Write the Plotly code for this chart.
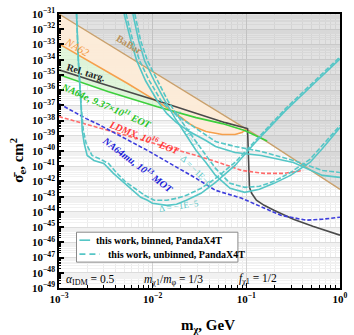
import plotly.graph_objects as go

# ---------------- data ----------------
X_RANGE = (1e-3, 1.0)
Y_RANGE = (1e-49, 1e-31)

babar_m = [1.0e-3, 1.01e-1, 1.67e-1, 1.0]
babar_sig = [1.0e-31, 2.75e-39, 4.0e-40, 3.0e-43]

na62_m = [1.0e-3, 2.67e-3, 5.46e-3, 8.81e-3, 1.42e-2, 2.03e-2, 2.46e-2, 2.91e-2, 3.70e-2, 5.54e-2, 7.57e-2, 8.95e-2, 1.01e-1]
na62_sig = [1.09e-33, 3.4e-35, 2.62e-36, 4.3e-37, 7.05e-38, 1.56e-38, 6.3e-39, 3.46e-39, 1.89e-39, 1.21e-39, 1.21e-39, 1.63e-39, 2.75e-39]

reltarg_m = [1.0e-3, 2.67e-3, 1.12e-2, 2.91e-2, 5.96e-2, 1.03e-1, 1.045e-1, 1.06e-1, 1.08e-1, 1.14e-1, 1.28e-1, 1.55e-1, 1.97e-1, 3.18e-1, 5.12e-1, 1.0]
reltarg_sig = [2.16e-35, 3.05e-36, 2.02e-37, 2.85e-38, 7.3e-39, 2.98e-39, 1.08e-40, 2.5e-42, 4.1e-43, 1.66e-43, 5.8e-44, 2.7e-44, 1.28e-44, 3.3e-45, 1.15e-45, 2.96e-46]

na64e_m = [1.0e-3, 3.38e-3, 1.12e-2, 2.91e-2, 5.54e-2, 9.61e-2, 1.67e-1]
na64e_sig = [1.02e-35, 7.9e-37, 8.2e-38, 1.56e-38, 6.3e-39, 2.2e-39, 4.5e-40]

ldmx_m = [1.0e-3, 2.67e-3, 8.81e-3, 2.91e-2, 4.69e-2, 8.95e-2, 1.55e-1, 2.50e-1, 4.04e-1]
ldmx_sig = [1.82e-38, 3.46e-39, 4.2e-40, 5.1e-41, 2.06e-41, 5.3e-42, 3.38e-42, 3.38e-42, 5.3e-42]

na64mu_m = [1.0e-3, 1.95e-3, 2.67e-3, 8.81e-3, 2.91e-2, 4.69e-2, 8.95e-2, 1.55e-1, 2.33e-1, 4.34e-1, 6.50e-1, 1.0]
na64mu_sig = [1.29e-37, 1.34e-38, 5.4e-39, 1.08e-40, 1.59e-42, 2.6e-43, 7.8e-44, 1.73e-44, 6.0e-45, 2.84e-45, 3.3e-45, 4.5e-45]

# this work, Delta = -1E-5
d5_bin_m = [1.54e-3, 1.61e-3, 1.73e-3, 1.77e-3, 1.86e-3, 2.00e-3, 2.36e-3, 3.01e-3, 3.81e-3, 5.08e-3, 6.45e-3, 7.45e-3, 8.81e-3, 9.93e-3, 1.42e-2, 1.80e-2, 2.29e-2, 3.28e-2, 4.69e-2, 7.57e-2, 1.22e-1, 1.97e-1, 2.62e-1, 5.12e-1, 1.0]
d5_bin_sig = [1e-31, 8.4e-35, 4.5e-38, 2.2e-39, 3.1e-40, 5.1e-41, 2.4e-41, 1.52e-41, 3.38e-42, 7.5e-43, 1.93e-43, 9.1e-44, 5.8e-44, 3.7e-44, 2.7e-44, 3.16e-44, 5.8e-44, 1.66e-43, 8.7e-43, 1.13e-41, 3.1e-40, 7.3e-39, 4.5e-38, 2.25e-36, 1.13e-34]
d5_unb_m = [1.54e-3, 1.61e-3, 1.74e-3, 1.82e-3, 1.95e-3, 2.25e-3, 2.67e-3, 3.38e-3, 4.09e-3, 5.20e-3, 6.93e-3, 8.20e-3, 1.04e-2, 1.42e-2, 1.80e-2, 2.29e-2, 3.28e-2, 4.69e-2, 7.57e-2, 1.22e-1, 1.97e-1, 2.62e-1, 5.12e-1, 1.0]
d5_unb_sig = [1e-31, 8.4e-35, 4.5e-38, 2.2e-39, 3.1e-40, 5.1e-41, 3.24e-41, 1.52e-41, 3.9e-42, 8.7e-43, 2.6e-43, 1.23e-43, 5.8e-44, 5.8e-44, 7.8e-44, 1.23e-43, 3.5e-43, 1.59e-42, 1.77e-41, 4.2e-40, 9.9e-39, 6.1e-38, 3.05e-36, 1.53e-34]

# this work, Delta = -1E-7
d7_bin_m = [4.96e-3, 5.86e-3, 6.76e-3, 8.40e-3, 1.12e-2, 1.42e-2, 1.80e-2, 2.46e-2, 3.70e-2, 4.69e-2, 7.57e-2, 1.44e-1, 3.18e-1, 6.50e-1, 1.0]
d7_bin_sig = [1e-31, 1.71e-33, 8.4e-35, 4.1e-36, 2.02e-37, 2.85e-38, 7.3e-39, 1.89e-39, 4.9e-40, 1.98e-40, 8.0e-41, 5.1e-41, 1.77e-41, 2.5e-42, 1.85e-42]
d7_unb_m = [5.20e-3, 6.15e-3, 7.27e-3, 9.23e-3, 1.23e-2, 1.56e-2, 2.03e-2, 2.91e-2, 4.69e-2, 7.57e-2, 1.44e-1, 3.18e-1, 6.50e-1, 1.0]
d7_unb_sig = [1e-31, 1.71e-33, 8.4e-35, 4.1e-36, 2.02e-37, 4.5e-38, 1.34e-38, 2.98e-39, 4.2e-40, 1.98e-40, 9.3e-41, 2.4e-41, 5.3e-42, 3.9e-42]

# this work, Delta = -1E-6
d6_bin_m = [6.15e-3, 7.10e-3, 8.20e-3, 1.04e-2, 1.35e-2, 1.72e-2, 2.29e-2, 2.91e-2, 3.70e-2, 4.69e-2, 6.71e-2, 9.61e-2, 1.38e-1, 1.97e-1, 2.96e-1, 4.77e-1, 6.50e-1, 1.0]
d6_bin_sig = [1e-31, 1.71e-33, 8.4e-35, 4.1e-36, 2.02e-37, 1.56e-38, 1.04e-39, 1.08e-40, 1.77e-41, 2.5e-42, 3.5e-43, 1.93e-43, 3.03e-43, 7.5e-43, 2.5e-42, 1.77e-41, 1.46e-40, 3.46e-39]
d6_unb_m = [6.45e-3, 7.45e-3, 8.81e-3, 1.12e-2, 1.45e-2, 1.84e-2, 2.46e-2, 3.28e-2, 4.69e-2, 6.71e-2, 9.61e-2, 1.38e-1, 1.97e-1, 2.96e-1, 4.77e-1, 6.50e-1, 1.0]
d6_unb_sig = [1e-31, 1.71e-33, 8.4e-35, 4.1e-36, 2.02e-37, 2.11e-38, 1.63e-39, 1.46e-40, 7.2e-42, 7.5e-43, 4.1e-43, 4.8e-43, 1.01e-42, 3.9e-42, 2.79e-41, 2.3e-40, 4.7e-39]

y_exps = list(range(-49, -30))
x_exps = [-3, -2, -1, 0]

# ---------------- styling ----------------
SERIF = "Liberation Serif, Times New Roman, serif"
CYAN = "#55c6c6"

# plot area in pixels (for placing text / legend)
L, R, T, B = 59, 348, 13, 288


def pxx(x):
    return (x - L) / (R - L)


def pxy(y):
    return (B - y) / (B - T)


fig = go.Figure()


def poly_under(m, s, upper_m, upper_s):
    """closed polygon between a curve and the BaBar curve above it"""
    last = m[-1]
    up = [(a, b) for a, b in zip(upper_m, upper_s) if a <= last * 1.0001]
    up = up[::-1]
    return m + [a for a, _ in up], s + [b for _, b in up]


# gray BaBar-excluded area
fig.add_trace(go.Scatter(x=babar_m + [X_RANGE[1], X_RANGE[0]], y=babar_sig + [Y_RANGE[1], Y_RANGE[1]],
                         fill="toself", fillcolor="rgba(160,160,160,0.30)", mode="lines",
                         line=dict(width=0), hoverinfo="skip", showlegend=False))
gx, gy = poly_under(na64e_m, na64e_sig, babar_m, babar_sig)
fig.add_trace(go.Scatter(x=gx, y=gy, fill="toself", fillcolor="rgba(215,243,208,0.75)", mode="lines",
                         line=dict(width=0), hoverinfo="skip", showlegend=False))
ox, oy = poly_under(na62_m, na62_sig, babar_m, babar_sig)
fig.add_trace(go.Scatter(x=ox, y=oy, fill="toself", fillcolor="rgba(254,234,216,0.92)", mode="lines",
                         line=dict(width=0), hoverinfo="skip", showlegend=False))


def line(m, s, color, width=1.5, dash="solid"):
    fig.add_trace(go.Scatter(x=m, y=s, mode="lines", line=dict(color=color, width=width, dash=dash),
                             hoverinfo="skip", showlegend=False))


line(babar_m, babar_sig, "#c9a06c", 1.3)
line(na62_m, na62_sig, "#f6a04c", 1.6)
line(reltarg_m, reltarg_sig, "#4a4a4a", 1.6)
line(na64e_m, na64e_sig, "#3ccf3c", 1.6)
line(ldmx_m, ldmx_sig, "#ff6a6a", 1.6, "4px,2px")
line(na64mu_m, na64mu_sig, "#3c3cdc", 1.6, "4px,2px")

for m, s in [(d5_bin_m, d5_bin_sig), (d7_bin_m, d7_bin_sig), (d6_bin_m, d6_bin_sig)]:
    line(m, s, CYAN, 1.6)
for m, s in [(d5_unb_m, d5_unb_sig), (d7_unb_m, d7_unb_sig), (d6_unb_m, d6_unb_sig)]:
    line(m, s, CYAN, 1.6, "5px,2px")

# ---------------- axes ----------------
minor_y = [k * 10.0 ** e for e in y_exps[:-1] for k in range(2, 10)]
minor_x = [k * 10.0 ** e for e in x_exps[:-1] for k in range(2, 10)]

fig.update_yaxes(type="log", range=[-49, -31], tickmode="array",
                 tickvals=[10.0 ** e for e in y_exps],
                 ticktext=["<b>10<sup>\u2212%d</sup></b>" % (-e) for e in y_exps],
                 ticks="inside", ticklen=5, tickwidth=1.5, tickcolor="black",
                 showline=True, linecolor="black", linewidth=1.5, mirror=True,
                 showgrid=True, gridcolor="#dcdcdc", gridwidth=1,
                 minor=dict(tickmode="array", tickvals=minor_y, ticks="inside", ticklen=2.5,
                            tickcolor="black", tickwidth=1, showgrid=True, gridcolor="#f1f1f1", gridwidth=1),
                 tickfont=dict(family=SERIF, size=11, color="black"), zeroline=False)
fig.update_xaxes(type="log", range=[-3, 0], tickmode="array",
                 tickvals=[10.0 ** e for e in x_exps],
                 ticktext=["<b>10<sup>\u2212%d</sup></b>" % (-e) if e < 0 else "<b>10<sup>0</sup></b>" for e in x_exps],
                 ticks="inside", ticklen=5, tickwidth=1.2, tickcolor="black",
                 showline=True, linecolor="black", linewidth=1.5, mirror=True,
                 showgrid=True, gridcolor="#d2d2d2", gridwidth=1,
                 minor=dict(tickmode="array", tickvals=minor_x, ticks="inside", ticklen=3,
                            tickcolor="black", tickwidth=1, showgrid=True, gridcolor="#ebebeb", gridwidth=1),
                 tickfont=dict(family=SERIF, size=11, color="black"), zeroline=False)

# ---------------- text ----------------
ann = []


def text(x, y, s, color="black", size=10, angle=0, xanchor="center"):
    ann.append(dict(x=pxx(x), y=pxy(y), xref="paper", yref="paper", text=s, showarrow=False,
                    font=dict(family=SERIF, size=size, color=color), textangle=angle,
                    xanchor=xanchor, yanchor="middle"))


text(131, 44, "<b>BaBar</b>", "#b8925e", 10, 31)
text(78, 46, "<i>NA62</i>", "#f39a40", 11, 30)
text(87, 72, "<b>Rel. targ.</b>", "#222222", 10, 17)
text(108, 104, "<b><i>NA64e, 9.37\u00d710<sup>11</sup> EOT</i></b>", "#22c322", 10, 24)
text(147, 136, "<b><i>LDMX, 10<sup>16</sup> EOT</i></b>", "#ff3a3a", 10, 22)
text(140, 164, "<b><i>NA64mu, 10<sup>13</sup> MOT</i></b>", "#1a1ad8", 10, 37)
text(190, 128, "\u0394 = \u22121E\u22127", CYAN, 9, 62)
text(200, 171, "\u0394 = \u22121E\u22126", CYAN, 9, 45)
text(182, 206, "\u0394 = \u22121E\u22125", CYAN, 9, -8)

text(64, 280, "<i>\u03b1</i><sub>IDM</sub> = 0.5", "black", 11.5, 0, "left")
text(144, 280, "<i>m</i><sub>\u03c71</sub>/<i>m</i><sub>\u03c6</sub> = 1/3", "black", 11.5, 0, "left")
text(242, 279, "<i>f</i><sub>\u03c71</sub> = 1/2", "black", 11.5, 0, "left")

# axis titles
text(17, 160, "<b>\u03c3\u0304<sub>e</sub>, cm<sup>2</sup></b>", "black", 15, -90)
text(212, 326, "<b>m<sub>\u03c7</sub>, GeV</b>", "black", 15, 0)

# legend (drawn by hand)
shapes = [dict(type="rect", xref="paper", yref="paper", x0=pxx(77), x1=pxx(243), y0=pxy(262), y1=pxy(232),
               line=dict(color="#8a8a8a", width=1), fillcolor="white", layer="above"),
          dict(type="line", xref="paper", yref="paper", x0=pxx(80), x1=pxx(91), y0=pxy(240), y1=pxy(240),
               line=dict(color=CYAN, width=1.6), layer="above"),
          dict(type="line", xref="paper", yref="paper", x0=pxx(80), x1=pxx(101), y0=pxy(254), y1=pxy(254),
               line=dict(color=CYAN, width=1.6, dash="6px,4px"), layer="above")]
text(95, 240, "<b>this work, binned, PandaX4T</b>", "black", 10, 0, "left")
text(107, 254, "<b>this work, unbinned, PandaX4T</b>", "black", 10, 0, "left")

fig.update_layout(width=354, height=335, margin=dict(l=L, r=354 - R, t=T, b=335 - B, pad=0),
                  paper_bgcolor="white", plot_bgcolor="white", showlegend=False,
                  annotations=ann, shapes=shapes)

fig.write_html("out.html", config={"displayModeBar": False})
